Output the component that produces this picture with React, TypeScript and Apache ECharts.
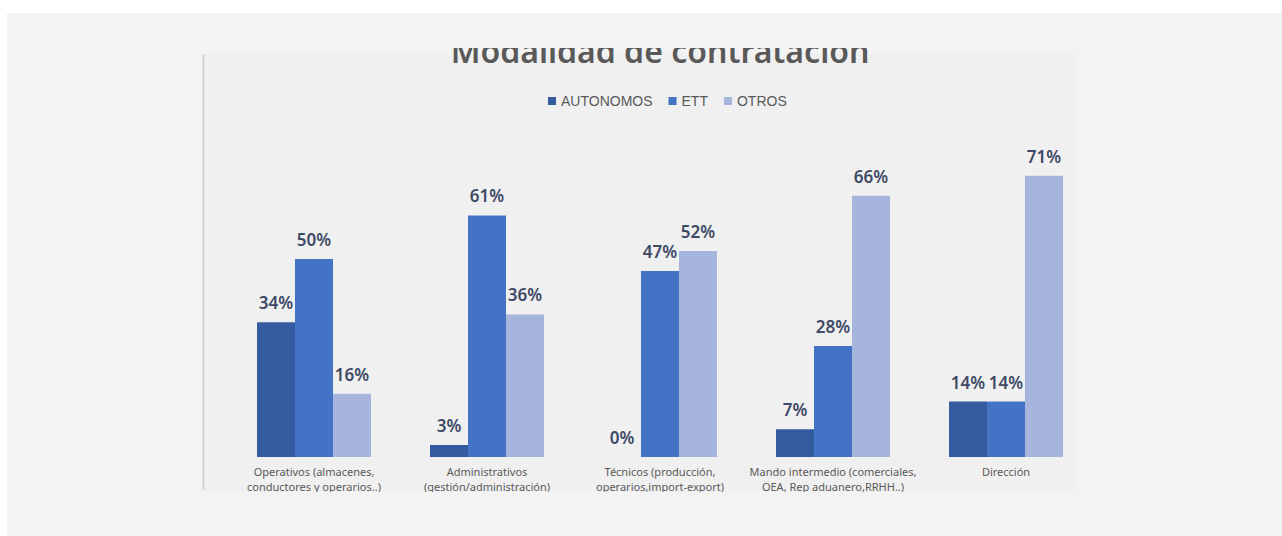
import React, { useEffect, useRef } from "react";
import * as echarts from "echarts";

const categories = [
  "Operativos (almacenes,\nconductores y operarios..)",
  "Administrativos\n(gestión/administración)",
  "Técnicos (producción,\noperarios,import-export)",
  "Mando intermedio (comerciales,\nOEA, Rep aduanero,RRHH..)",
  "Dirección",
];
const autonomos = [34, 3, 0, 7, 14];
const ett = [50, 61, 47, 28, 14];
const otros = [16, 36, 52, 66, 71];
const seriesNames = ["AUTONOMOS", "ETT", "OTROS"];
const colors = ["#345a9f", "#4472c4", "#a6b5dc"];
const titleText = "Modalidad de contratación";

export default function App() {
  const ref = useRef<HTMLDivElement>(null);
  useEffect(() => {
    if (!ref.current) return;
    const chart = echarts.init(ref.current, undefined, { renderer: "svg" });
    const labelStyle = {
      show: true,
      position: "top" as const,
      distance: 11,
      formatter: "{c}%",
      color: "#3e4a66",
      fontSize: 17,
      fontWeight: 600 as const,
      fontFamily: "Noto Sans",
    };
    const datasets = [autonomos, ett, otros];
    chart.setOption({
      animation: false,
      backgroundColor: "#ffffff",
      color: colors,
      graphic: [
        { type: "rect", z: -10, shape: { x: 7, y: 13, width: 1275, height: 523 }, style: { fill: "#f3f3f3" }, silent: true },
        { type: "rect", z: -9, shape: { x: 205, y: 54, width: 871, height: 438 }, style: { fill: "#f0f0f0" }, silent: true },
        { type: "rect", z: -8, shape: { x: 202.5, y: 54, width: 2, height: 436 }, style: { fill: "#d2d2d2" }, silent: true },
        {
          type: "text",
          z: 5,
          x: 660,
          y: 50,
          style: {
            text: titleText,
            fill: "#595959",
            fontSize: 32,
            fontWeight: 600,
            fontFamily: "Noto Sans",
            align: "center",
            verticalAlign: "middle",
          },
          silent: true,
        },
        { type: "rect", z: 10, shape: { x: 300, y: 13, width: 700, height: 35 }, style: { fill: "#f3f3f3" }, silent: true },
        { type: "rect", z: 10, shape: { x: 205, y: 492, width: 900, height: 44 }, style: { fill: "#f3f3f3" }, silent: true },
      ],
      legend: {
        data: seriesNames,
        top: 89,
        left: 543,
        itemWidth: 8,
        itemHeight: 8,
        itemGap: 16,
        icon: "rect",
        textStyle: { color: "#595959", fontSize: 14, fontFamily: "Liberation Sans" },
      },
      grid: { left: 227.5, right: 189.5, top: 61, bottom: 79, containLabel: false },
      xAxis: {
        type: "category",
        data: categories,
        axisLine: { show: false },
        axisTick: { show: false },
        axisLabel: {
          interval: 0,
          margin: 7,
          color: "#595959",
          fontSize: 11,
          lineHeight: 15,
          fontFamily: "Noto Sans",
        },
      },
      yAxis: { type: "value", min: 0, max: 100, show: false, splitLine: { show: false } },
      series: seriesNames.map((name, i) => ({
        name,
        type: "bar",
        data: datasets[i],
        barWidth: 38,
        barGap: "0%",
        itemStyle: { color: colors[i] },
        label: labelStyle,
      })),
    });
    return () => chart.dispose();
  }, []);
  return <div ref={ref} style={{ position: "fixed", left: 0, top: 0, width: 1282, height: 536 }} />;
}
